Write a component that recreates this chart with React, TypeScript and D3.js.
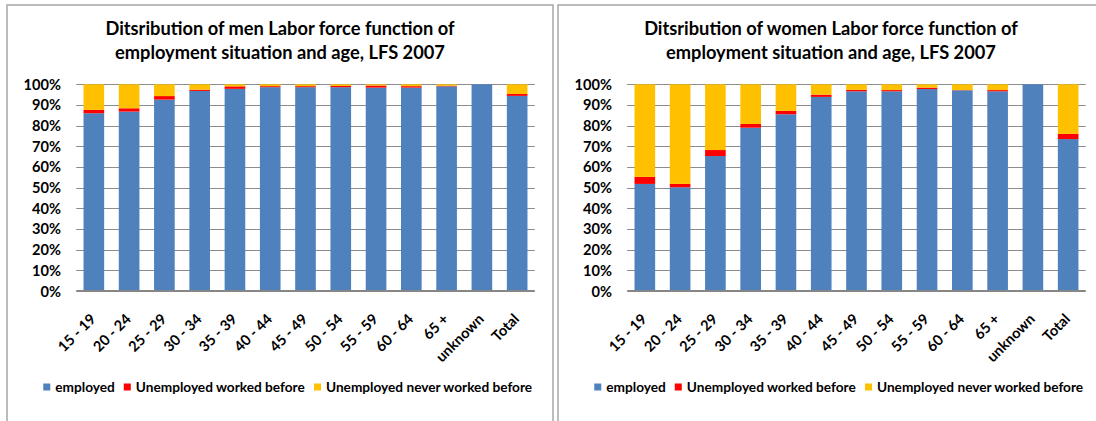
import React from "react";
import * as d3 from "d3";

const categories = ["15 - 19", "20 - 24", "25 - 29", "30 - 34", "35 - 39", "40 - 44", "45 - 49", "50 - 54", "55 - 59", "60 - 64", "65 +", "unknown", "Total"];
const seriesNames = ["employed", "Unemployed worked before", "Unemployed never worked before"];
const seriesColors = ["#4F81BD", "#FF0000", "#FFC000"];

const menEmployed = [86.0, 86.8, 92.6, 96.8, 97.8, 98.6, 98.6, 98.6, 98.4, 98.4, 99.0, 100, 94.4];
const menWorkedBefore = [1.6, 1.6, 1.7, 0.6, 1.2, 0.5, 0.5, 0.6, 1.0, 0.7, 0.3, 0, 0.9];
const menNeverWorked = [12.4, 11.6, 5.7, 2.6, 1.0, 0.9, 0.9, 0.8, 0.6, 0.9, 0.7, 0, 4.7];

const womenEmployed = [51.8, 50.2, 65.3, 79.0, 85.5, 93.9, 96.6, 96.6, 97.7, 97.1, 96.6, 100, 73.5];
const womenWorkedBefore = [3.4, 1.6, 2.9, 1.8, 1.6, 1.1, 0.7, 0.6, 0.7, 0.1, 0.6, 0, 2.5];
const womenNeverWorked = [44.8, 48.2, 31.8, 19.2, 12.9, 5.0, 2.7, 2.8, 1.6, 2.8, 2.8, 0, 24.0];

const yTicks = [0, 0.1, 0.2, 0.3, 0.4, 0.5, 0.6, 0.7, 0.8, 0.9, 1.0];

const menTitle = ["Ditsribution of men Labor force function of", "employment situation and age, LFS 2007"];
const womenTitle = ["Ditsribution of women Labor force function of", "employment situation and age, LFS 2007"];

const FONT = "Lato, 'Open Sans', 'DejaVu Sans', sans-serif";

let ctx: CanvasRenderingContext2D | null = null;
function measure(text: string, size: number): number {
  if (!ctx) ctx = document.createElement("canvas").getContext("2d");
  if (!ctx) return text.length * size * 0.5;
  ctx.font = `700 ${size}px Lato, 'Open Sans', sans-serif`;
  return ctx.measureText(text).width;
}
function fit(text: string, target: number): number {
  return (100 * target) / measure(text, 100);
}

const fmt = d3.format(".0%");

function Chart({ ox, title, employed, workedBefore, neverWorked }: any) {
  const rows = categories.map((c, i) => ({ cat: c, 0: employed[i], 1: workedBefore[i], 2: neverWorked[i] }));
  const stack = d3.stack<any, any, number>().keys([0, 1, 2]).value((d: any, k: number) => d[k]).offset(d3.stackOffsetExpand);
  const series = stack(rows as any);

  const x = d3.scaleBand<string>().domain(categories).range([ox + 69.2, ox + 527.8]).paddingInner(0.415).paddingOuter(0.2075);
  const y = d3.scaleLinear().domain([0, 1]).range([291, 84.3]);

  const titleSize = fit(menTitle[0], 350);
  const tickSize = fit("100%", 37.4);
  const legendSize = fit(seriesNames[2], 207);

  const cx = ox + 273;
  // legend layout
  const sq = 7;
  const gapIn = 5;
  const gapBetween = 9;
  const widths = seriesNames.map((n) => measure(n, legendSize));
  const total = widths.reduce((a, b) => a + b, 0) + seriesNames.length * (sq + gapIn) + (seriesNames.length - 1) * gapBetween;
  let lx = ox + 281 - total / 2;
  const legendItems = seriesNames.map((n, i) => {
    const item = { name: n, color: seriesColors[i], x: lx };
    lx += sq + gapIn + widths[i] + gapBetween;
    return item;
  });
  const ly = 387;

  return (
    <g fontFamily={FONT} fontWeight={700} fill="#000">
      {title.map((t: string, i: number) => (
        <text key={i} x={cx} y={35 + i * 24} textAnchor="middle" fontSize={titleSize}>
          {t}
        </text>
      ))}
      {yTicks.map((t) => (
        <g key={t}>
          {t > 0 && (
            <line x1={x.range()[0]} x2={x.range()[1]} y1={Math.round(y(t)) + 0.5} y2={Math.round(y(t)) + 0.5} stroke="#8c8c8c" strokeWidth={1} />
          )}
          <text x={ox + 54} y={y(t)} textAnchor="end" dominantBaseline="central" fontSize={tickSize}>
            {fmt(t)}
          </text>
        </g>
      ))}
      {series.map((s, si) => (
        <g key={si} fill={seriesColors[si]}>
          {s.map((d: any, i: number) => (
            <rect key={i} x={x(categories[i])} width={x.bandwidth()} y={y(d[1])} height={Math.max(0, y(d[0]) - y(d[1]))} />
          ))}
        </g>
      ))}
      <line x1={x.range()[0]} x2={x.range()[1]} y1={y(0)} y2={y(0)} stroke="#868686" strokeWidth={2} />
      {categories.map((c) => {
        const px = (x(c) as number) + x.bandwidth() / 2 + 3;
        const py = 320;
        return (
          <text key={c} x={px} y={py} textAnchor="end" fontSize={tickSize} transform={`rotate(-45 ${px} ${py})`}>
            {c}
          </text>
        );
      })}
      {legendItems.map((it) => (
        <g key={it.name}>
          <rect x={it.x} y={ly - sq / 2} width={sq} height={sq} fill={it.color} />
          <text x={it.x + sq + gapIn} y={ly} dominantBaseline="central" fontSize={legendSize}>
            {it.name}
          </text>
        </g>
      ))}
    </g>
  );
}

export default function App() {
  return (
    <svg width={1096} height={421} style={{ position: "absolute", left: 0, top: 0, display: "block", background: "#fff" }}>
      <rect x={0} y={0} width={1096} height={421} fill="#fff" />
      <rect x={7} y={5} width={546} height={440} fill="none" stroke="#a6a6a6" strokeWidth={1.5} />
      <rect x={558} y={5} width={560} height={440} fill="none" stroke="#a6a6a6" strokeWidth={1.5} />
      <Chart ox={7} title={menTitle} employed={menEmployed} workedBefore={menWorkedBefore} neverWorked={menNeverWorked} />
      <Chart ox={558} title={womenTitle} employed={womenEmployed} workedBefore={womenWorkedBefore} neverWorked={womenNeverWorked} />
    </svg>
  );
}
